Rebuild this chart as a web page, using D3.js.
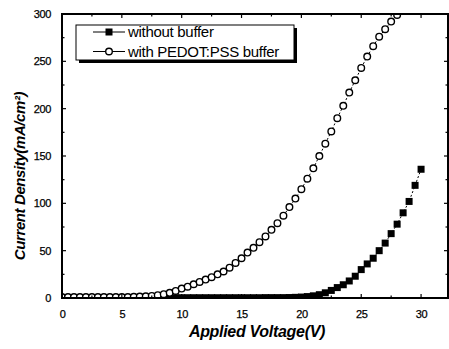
<!DOCTYPE html>
<html>
<head>
<meta charset="utf-8">
<script src="https://cdn.jsdelivr.net/npm/d3@7"></script>
<style>
  body { margin: 0; background: #fff; }
  svg { display: block; font-family: "Liberation Sans", Arial, sans-serif; }
</style>
</head>
<body>
<svg id="chart" width="449" height="349"></svg>
<script>
// voltage steps (V)
const voltsBare = [0, 0.5, 1, 1.5, 2, 2.5, 3, 3.5, 4, 4.5, 5, 5.5, 6, 6.5, 7, 7.5, 8, 8.5, 9, 9.5,
  10, 10.5, 11, 11.5, 12, 12.5, 13, 13.5, 14, 14.5, 15, 15.5, 16, 16.5, 17, 17.5, 18, 18.5, 19, 19.5,
  20, 20.5, 21, 21.5, 22, 22.5, 23, 23.5, 24, 24.5, 25, 25.5, 26, 26.5, 27, 27.5, 28, 28.5, 29, 29.5, 30];
// without buffer (mA/cm2)
const jBare = [0.2, 0.2, 0.2, 0.2, 0.2, 0.2, 0.2, 0.2, 0.2, 0.2, 0.2, 0.2, 0.2, 0.2, 0.2, 0.2, 0.2, 0.2, 0.2, 0.2,
  0.3, 0.3, 0.3, 0.3, 0.3, 0.3, 0.3, 0.3, 0.3, 0.3, 0.3, 0.3, 0.3, 0.3, 0.4, 0.4, 0.4, 0.4, 0.5, 0.7,
  1.0, 1.5, 2.3, 3.5, 5.5, 8, 11, 14, 18, 23, 30, 36, 42, 50, 58, 68, 78, 90, 102, 119, 136];

const voltsPedot = [0, 0.5, 1, 1.5, 2, 2.5, 3, 3.5, 4, 4.5, 5, 5.5, 6, 6.5, 7, 7.5, 8, 8.5, 9, 9.5,
  10, 10.5, 11, 11.5, 12, 12.5, 13, 13.5, 14, 14.5, 15, 15.5, 16, 16.5, 17, 17.5, 18, 18.5, 19, 19.5,
  20, 20.5, 21, 21.5, 22, 22.5, 23, 23.5, 24, 24.5, 25, 25.5, 26, 26.5, 27, 27.5, 28];
// with PEDOT:PSS buffer (mA/cm2)
const jPedot = [1, 1, 1, 1, 1, 1, 1, 1, 1, 1, 1, 1, 1.2, 1.5, 1.8, 2.2, 3, 4, 5.5, 7.5,
  10, 12, 14.5, 17, 19.5, 22, 25, 28, 32, 37, 42, 48, 53, 59, 65, 72, 79, 87, 96, 105,
  115, 126, 137, 150, 163, 176, 190, 203, 217, 230, 243, 255, 266, 276, 284, 292, 299];

const xTicks = [0, 5, 10, 15, 20, 25, 30];
const yTicks = [0, 50, 100, 150, 200, 250, 300];
const legendLabels = ["without buffer", "with PEDOT:PSS buffer"];

const svg = d3.select('#chart');
const pl = 62, pr = 448, pt = 14, pb = 298;

const x = d3.scaleLinear().domain([0, 32.25]).range([pl, pr]);
const y = d3.scaleLinear().domain([0, 300]).range([pb, pt]);

svg.append('clipPath').attr('id', 'plotclip')
  .append('rect').attr('x', pl).attr('y', pt)
  .attr('width', pr - pl).attr('height', pb - pt);

const plot = svg.append('g').attr('clip-path', 'url(#plotclip)');

function drawSeries(vs, js, kind) {
  const pts = vs.map((v, i) => [v, js[i]]);
  plot.append('path')
    .datum(pts)
    .attr('d', d3.line().x(d => x(d[0])).y(d => y(d[1])))
    .attr('fill', 'none')
    .attr('stroke', '#000')
    .attr('stroke-width', 1)
    .attr('stroke-dasharray', '2,2');
  if (kind === 'square') {
    plot.selectAll('rect.sq').data(pts).enter().append('rect')
      .attr('class', 'sq')
      .attr('x', d => x(d[0]) - 3.5)
      .attr('y', d => y(d[1]) - 3.5)
      .attr('width', 7).attr('height', 7)
      .attr('fill', '#000');
  } else {
    plot.selectAll('circle.ci').data(pts).enter().append('circle')
      .attr('class', 'ci')
      .attr('cx', d => x(d[0]))
      .attr('cy', d => y(d[1]))
      .attr('r', 3.3)
      .attr('fill', '#fff')
      .attr('stroke', '#000')
      .attr('stroke-width', 1.4);
  }
}

drawSeries(voltsBare, jBare, 'square');
drawSeries(voltsPedot, jPedot, 'circle');

// axes
const xMinor = d3.range(0, 32.5, 2.5);
const yMinor = d3.range(0, 301, 25);

const axB = svg.append('g').attr('transform', `translate(0,${pb})`)
  .call(d3.axisBottom(x).tickValues(xTicks).tickSize(0).tickPadding(12));
const axL = svg.append('g').attr('transform', `translate(${pl},0)`)
  .call(d3.axisLeft(y).tickValues(yTicks).tickSize(0).tickPadding(11));

[axB, axL].forEach(a => {
  a.select('.domain').remove();
  a.selectAll('text').attr('font-size', 11).attr('fill', '#000')
    .attr('letter-spacing', -0.4)
    .attr('stroke', '#000').attr('stroke-width', 0.25)
    .attr('font-family', '"Liberation Sans", Arial, sans-serif');
});

// inward ticks on all four sides
const tickG = svg.append('g').attr('stroke', '#000').attr('stroke-width', 1.2);
xMinor.forEach(v => {
  const len = v % 5 === 0 ? 4 : 2.5;
  tickG.append('line').attr('x1', x(v)).attr('x2', x(v)).attr('y1', pb).attr('y2', pb - len);
  tickG.append('line').attr('x1', x(v)).attr('x2', x(v)).attr('y1', pt).attr('y2', pt + len);
});
yMinor.forEach(v => {
  const len = v % 50 === 0 ? 4 : 2.5;
  tickG.append('line').attr('x1', pl).attr('x2', pl + len).attr('y1', y(v)).attr('y2', y(v));
  tickG.append('line').attr('x1', pr).attr('x2', pr - len).attr('y1', y(v)).attr('y2', y(v));
});

svg.append('rect')
  .attr('x', pl).attr('y', pt)
  .attr('width', pr - pl).attr('height', pb - pt)
  .attr('fill', 'none').attr('stroke', '#000').attr('stroke-width', 2);

// axis titles
svg.append('text')
  .attr('x', 257).attr('y', 337)
  .attr('text-anchor', 'middle')
  .attr('font-size', 16).attr('font-weight', 'bold').attr('font-style', 'italic')
  .attr('letter-spacing', -0.3)
  .text('Applied Voltage(V)');

svg.append('text')
  .attr('transform', 'translate(25,176) rotate(-90)')
  .attr('text-anchor', 'middle')
  .attr('font-size', 15).attr('font-weight', 'bold').attr('font-style', 'italic')
  .attr('letter-spacing', -0.4)
  .text('Current Density(mA/cm²)');

// legend
const lg = svg.append('g');
lg.append('rect').attr('x', 79).attr('y', 28).attr('width', 218).attr('height', 35).attr('fill', '#000');
lg.append('rect').attr('x', 76).attr('y', 25).attr('width', 218).attr('height', 35)
  .attr('fill', '#fff').attr('stroke', '#000').attr('stroke-width', 1);

legendLabels.forEach((label, i) => {
  const ly = 32 + i * 19.5;
  lg.append('line').attr('x1', 93).attr('x2', 125).attr('y1', ly).attr('y2', ly)
    .attr('stroke', '#000').attr('stroke-width', 1);
  if (i === 0) {
    lg.append('rect').attr('x', 105.5).attr('y', ly - 3.5).attr('width', 7).attr('height', 7).attr('fill', '#000');
  } else {
    lg.append('circle').attr('cx', 109).attr('cy', ly).attr('r', 3.3)
      .attr('fill', '#fff').attr('stroke', '#000').attr('stroke-width', 1.4);
  }
  lg.append('text').attr('x', 128).attr('y', ly + 5)
    .attr('font-size', 15).attr('letter-spacing', -0.3)
    .text(label);
});
</script>
</body>
</html>
